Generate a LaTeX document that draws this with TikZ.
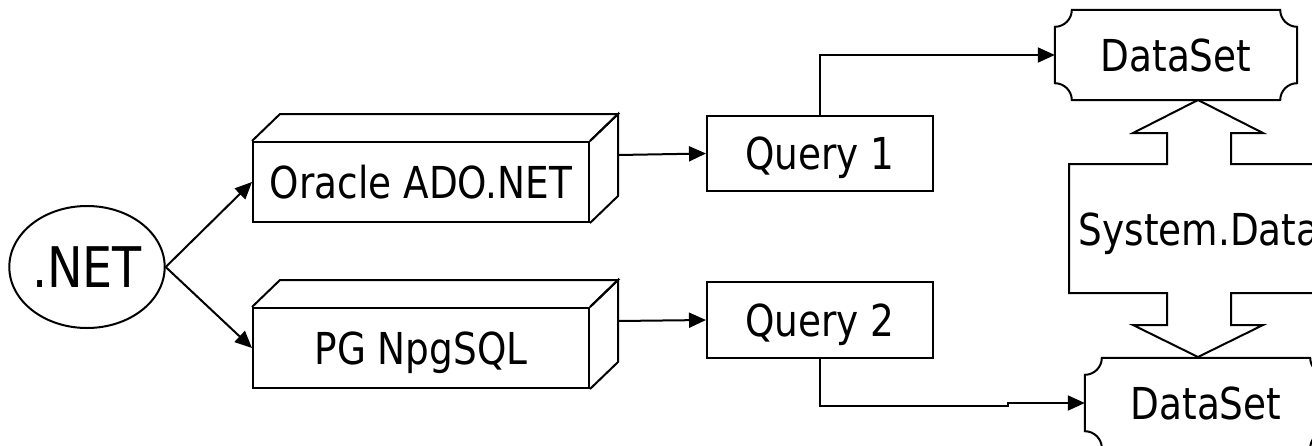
\documentclass[tikz,border=0pt]{standalone}
\usepackage{fontspec}
\setmainfont{DejaVu Sans}[FakeStretch=0.85]
\usetikzlibrary{arrows.meta,calc,shapes.geometric}
\newcommand\drawcube[1]{%
  \draw[line] (#1.north west) -- ++(28,-27) -- ($(#1.north east)+(28,-27)$) -- (#1.north east);
  \draw[line] (#1.north east) -- ++(28,-27) -- ($(#1.south east)+(28,-27)$) -- (#1.south east);
  \coordinate (#1back) at ($(#1.east)+(28,-27)$);}
\newcommand\drawplaque[1]{%
  \draw[line] ($(#1.north west)+(0,17)$) .. controls ($(#1.north west)+(9.4,17)$) and ($(#1.north west)+(17,9.4)$) .. ($(#1.north west)+(17,0)$)
   -- ($(#1.north east)+(-17,0)$) .. controls ($(#1.north east)+(-17,9.4)$) and ($(#1.north east)+(-9.4,17)$) .. ($(#1.north east)+(0,17)$)
   -- ($(#1.south east)+(0,-17)$) .. controls ($(#1.south east)+(-9.4,-17)$) and ($(#1.south east)+(-17,-9.4)$) .. ($(#1.south east)+(-17,0)$)
   -- ($(#1.south west)+(17,0)$) .. controls ($(#1.south west)+(17,-9.4)$) and ($(#1.south west)+(9.4,-17)$) .. ($(#1.south west)+(0,-17)$)
   -- cycle;}
\tikzset{
  line/.style={line width=2pt, line join=miter},
  lbl/.style={font=\fontsize{44}{50}\selectfont, text height=32pt, text depth=0pt, inner sep=0pt},
  boxnode/.style={lbl, draw, line, inner sep=0pt},
  conn/.style={line, -{Triangle[length=17pt,width=15pt]}},
}
\begin{document}
\begin{tikzpicture}[x=1pt,y=-1pt]
\useasboundingbox (0,0) rectangle (1312,445);
\clip (0,0) rectangle (1312,445);
\fill[white] (0,0) rectangle (1312,445);
% .NET ellipse
\node[ellipse, draw, line, minimum width=152pt, minimum height=122pt, inner sep=0pt,
      font=\fontsize{56}{60}\selectfont, text height=41pt, text depth=0pt] (net) at (87,267) {.NET};
% providers (cuboids)
\node[boxnode, minimum width=336pt, minimum height=80pt] (ora) at (421,182) {Oracle ADO.NET};
\drawcube{ora}
\node[boxnode, minimum width=336pt, minimum height=80pt] (pg) at (421,348) {PG NpgSQL};
\drawcube{pg}
% queries
\node[boxnode, minimum width=226pt, minimum height=75pt] (q1) at (820,153.5) {Query 1};
\node[boxnode, minimum width=226pt, minimum height=76pt] (q2) at (820,320) {Query 2};
% datasets
\node[lbl, minimum width=242pt, minimum height=90pt] (ds1) at (1176,55) {DataSet};
\drawplaque{ds1}
\node[lbl, minimum width=242pt, minimum height=90pt] (ds2) at (1206,403) {DataSet};
\drawplaque{ds2}
% System.Data double block arrow
\draw[line] (1198,100) -- (1263,133) -- (1231,133) -- (1231,164) -- (1327,164) -- (1327,293)
  -- (1231,293) -- (1231,325) -- (1263,325) -- (1198,357) -- (1133,325) -- (1167,325)
  -- (1167,293) -- (1069,293) -- (1069,164) -- (1167,164) -- (1167,133) -- (1133,133) -- cycle;
\node[lbl] (sysdata) at (1199,229) {System.Data};
% connectors
\draw[conn] (net.east) -- (ora.west);
\draw[conn] (net.east) -- (pg.west);
\draw[conn] (oraback) -- (q1.west);
\draw[conn] (pgback) -- (q2.west);
\draw[conn] (q1.north) |- (ds1.west);
\coordinate (jog) at (1008,406);
\draw[conn] (q2.south) |- (jog) |- (ds2.west);
\end{tikzpicture}
\end{document}
